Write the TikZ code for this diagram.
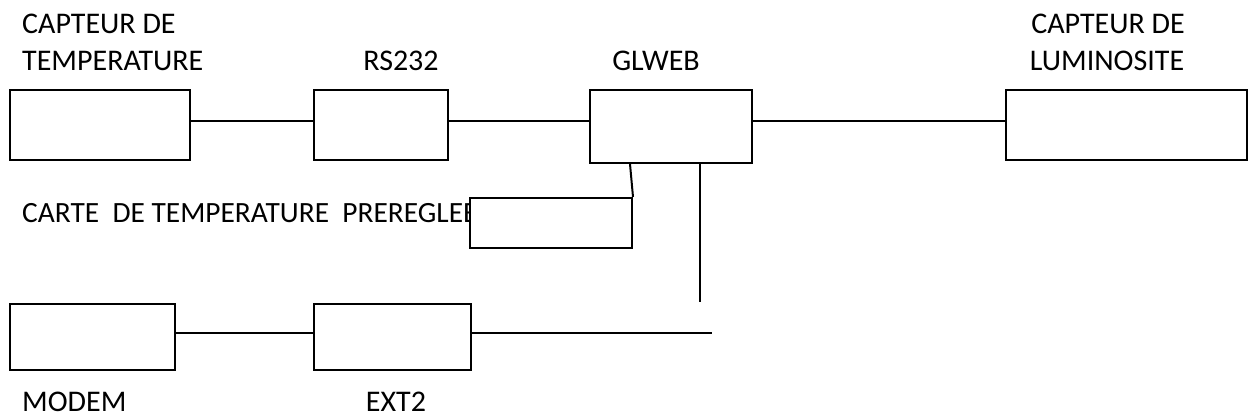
\documentclass[tikz,border=0pt]{standalone}
\usepackage{fontspec}
\setmainfont{Carlito}
\begin{document}
\begin{tikzpicture}[x=1pt,y=-1pt,
  box/.style={draw=black,line width=2pt,fill=white,rectangle,inner sep=0pt,minimum height=70pt},
  lbl/.style={inner sep=0pt,font=\fontsize{30}{37}\selectfont},
  wire/.style={line width=2pt}]
\useasboundingbox (0,0) rectangle (1249,418);
% labels
\node[lbl,anchor=base west] (ct1) at (22,33) {CAPTEUR DE};
\node[lbl,anchor=base west] (ct2) at (22,70) {TEMPERATURE};
\node[lbl,anchor=base] (rsl) at (401,70) {RS232};
\node[lbl,anchor=base] (gll) at (656,70) {GLWEB};
\node[lbl,anchor=base] (lum1) at (1108,33) {CAPTEUR DE};
\node[lbl,anchor=base] (lum2) at (1107,70) {LUMINOSITE};
\node[lbl,anchor=base west,font=\fontsize{29.4}{37}\selectfont] (carte) at (22,222) {CARTE\ \ DE TEMPERATURE\ \ PREREGLEE};
\node[lbl,anchor=base west] (modl) at (22,411) {MODEM};
\node[lbl,anchor=base] (extl) at (396,411) {EXT2};
% boxes
\node[box,minimum width=180pt] (ct) at (100,125) {};
\node[box,minimum width=134pt] (rs) at (381,125) {};
\node[box,minimum width=162pt,minimum height=73pt] (gl) at (671,126.5) {};
\node[box,minimum width=241pt] (lum) at (1126.5,125) {};
\node[box,minimum width=162pt,minimum height=50pt] (pre) at (551,223) {};
\node[box,minimum width=165pt,minimum height=66pt] (modem) at (92.5,337) {};
\node[box,minimum width=157pt,minimum height=66pt] (ext) at (392.5,337) {};
\coordinate (vend) at (700,302);
\coordinate (hend) at (712,333);
% connectors
\draw[wire] (ct.east |- 0,121) -- (rs.west |- 0,121);
\draw[wire] (rs.east |- 0,121) -- (gl.west |- 0,121);
\draw[wire] (gl.east |- 0,121) -- (lum.west |- 0,121);
\draw[wire] (gl.south -| 630,0) -- (pre.north east);
\draw[wire] (gl.south -| 700,0) -- (vend);
\draw[wire] (modem.east |- 0,333) -- (ext.west |- 0,333);
\draw[wire] (ext.east |- 0,333) -- (hend);
\end{tikzpicture}
\end{document}
